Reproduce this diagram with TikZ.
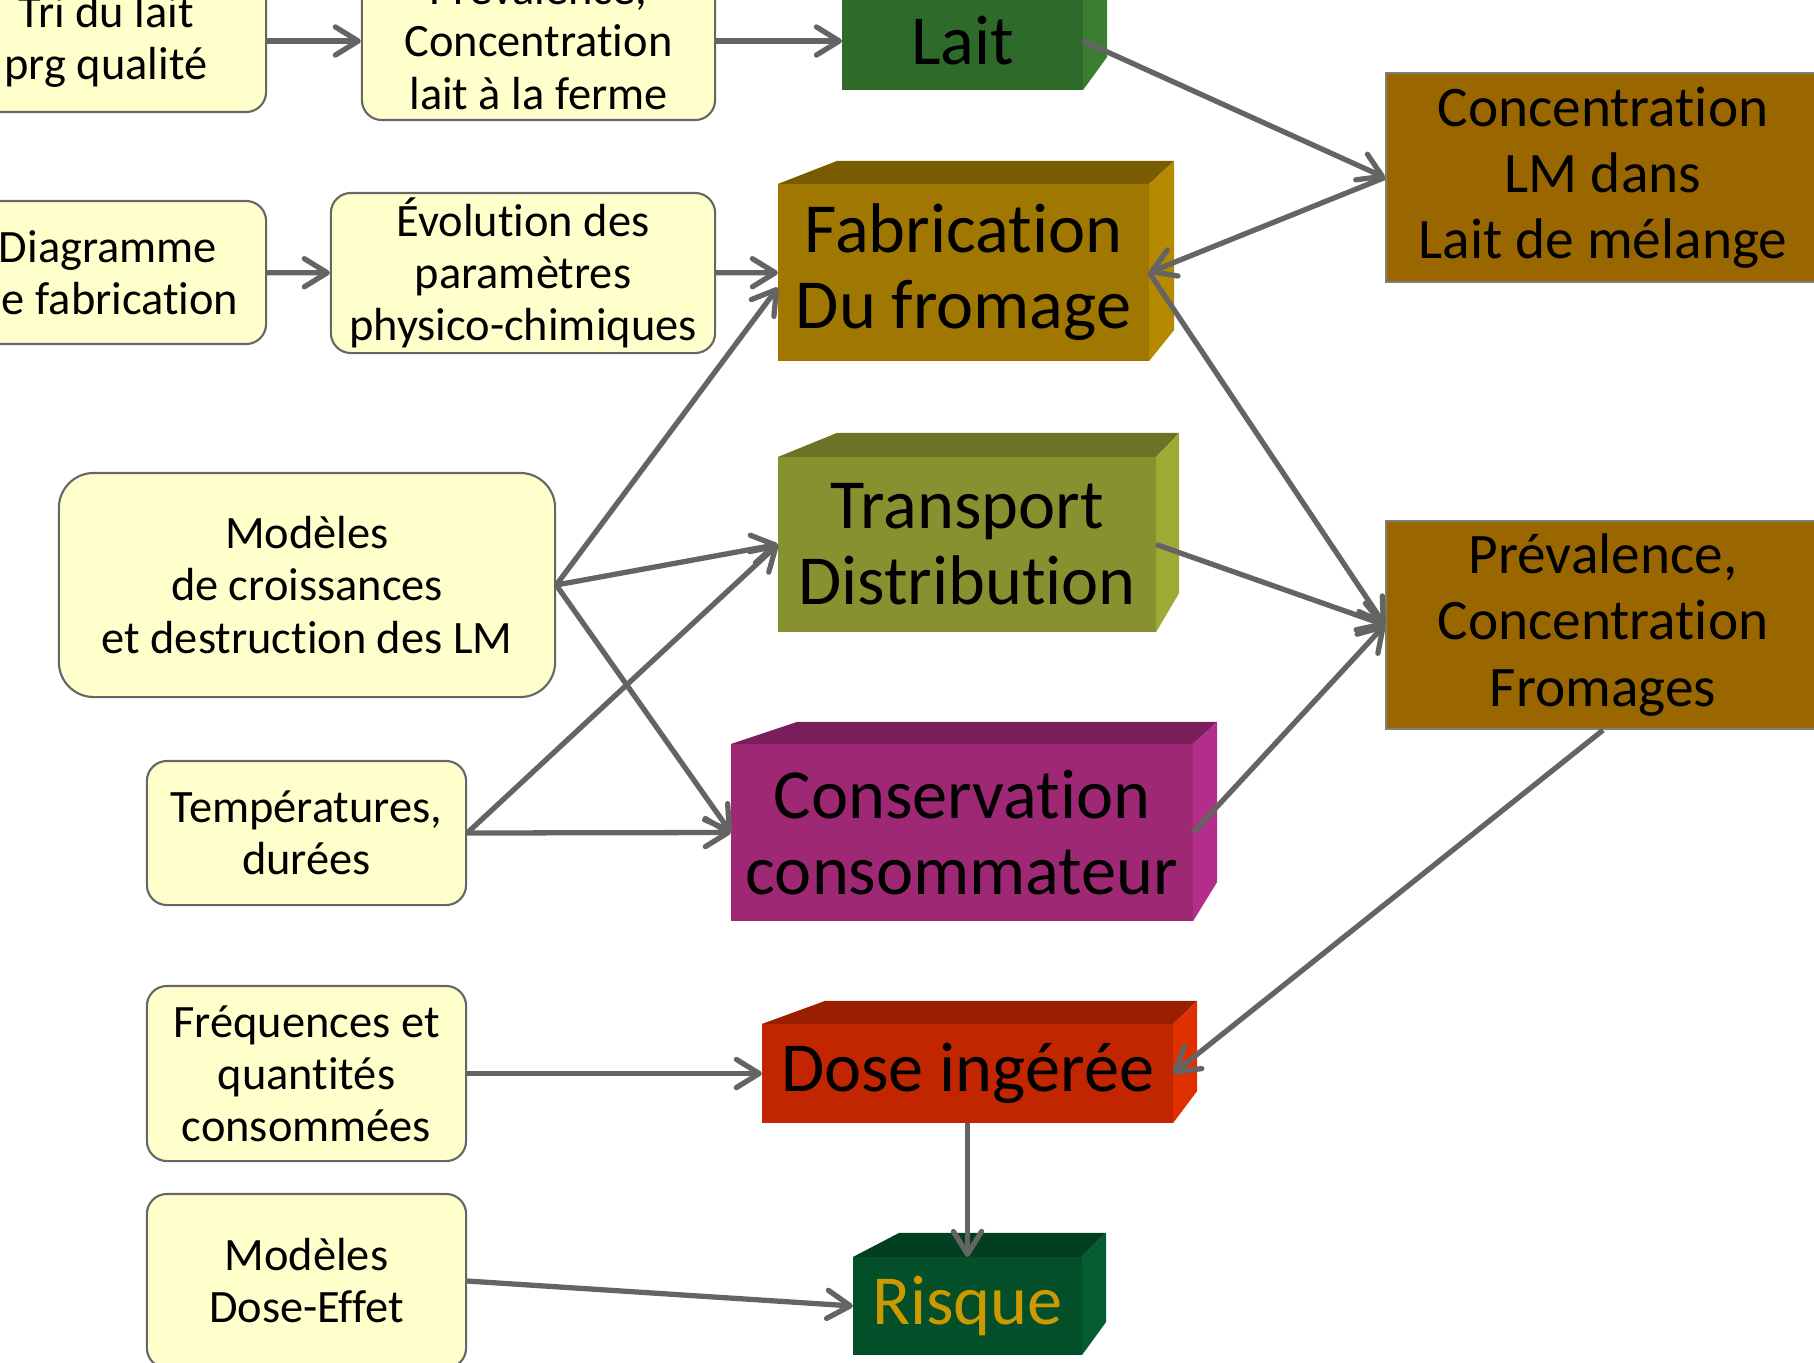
\documentclass[tikz,border=0pt]{standalone}
\usepackage{fontspec}
\setmainfont{Carlito}[RawFeature={-liga;-clig;-calt;-dlig}]
\usepackage{xcolor}
\usepackage{tikz}
\usetikzlibrary{arrows.meta,positioning,calc}

\definecolor{infofill}{HTML}{FFFFCC}
\definecolor{infoborder}{HTML}{666666}
\definecolor{linkgray}{HTML}{646464}
\definecolor{resfill}{HTML}{996600}
\definecolor{resborder}{HTML}{7F7F7F}
\definecolor{laitfront}{HTML}{2E6B2B}
\definecolor{laittop}{HTML}{25591F}
\definecolor{laitside}{HTML}{3B7D31}
\definecolor{fabfront}{HTML}{A07700}
\definecolor{fabtop}{HTML}{7A5C00}
\definecolor{fabside}{HTML}{B58A00}
\definecolor{transfront}{HTML}{879130}
\definecolor{transtop}{HTML}{6B7326}
\definecolor{transside}{HTML}{9DAA35}
\definecolor{consfront}{HTML}{9E2874}
\definecolor{constop}{HTML}{7A1F5B}
\definecolor{consside}{HTML}{B32E8A}
\definecolor{dosefront}{HTML}{C22600}
\definecolor{dosetop}{HTML}{9A1F00}
\definecolor{doseside}{HTML}{E03000}
\definecolor{risqfront}{HTML}{034F29}
\definecolor{risqtop}{HTML}{023F20}
\definecolor{risqside}{HTML}{055C31}
\definecolor{risqtext}{HTML}{CC9900}

% top and side faces of a block: node, shift top left, shift right, rise top, rise bottom right, colours
\newcommand{\boxfaces}[7]{%
  \fill[#6] (#1.north west) -- ++(#2,#4) -- ($(#1.north east)+(#3,#4)$) -- (#1.north east) -- cycle;
  \fill[#7] (#1.north east) -- ($(#1.north east)+(#3,#4)$) -- ($(#1.south east)+(#3,#5)$) -- (#1.south east) -- cycle;
}

\begin{document}
\begin{tikzpicture}[x=0.01cm,y=-0.01cm,
    info/.style={draw=infoborder,fill=infofill,line width=0.6pt,rounded corners=0.2cm,
      align=center,inner sep=0pt,font=\fontsize{13.2}{14.8}\selectfont},
    stage/.style={inner sep=0pt,outer sep=0pt,align=center,font=\fontsize{20}{21.6}\selectfont},
    result/.style={draw=resborder,fill=resfill,line width=0.6pt,inner sep=0pt,align=center,
      minimum width=4.34cm,font=\fontsize{16.3}{18.8}\selectfont},
    link/.style={draw=linkgray,line width=1.5pt,-{Straight Barb[length=6.5pt,width=8pt,round]}}]
    \useasboundingbox (0,0) rectangle (1814,1363);
    \clip (0,0) rectangle (1814,1363);

    % data on the left
    \node[info,minimum width=3.20cm,minimum height=1.42cm] (tri) at (106,41) {Tri du lait\\prg qualité};
    \node[info,minimum width=3.53cm,minimum height=1.58cm] (prevferme) at (538.5,41) {Prévalence,\\Concentration\\lait à la ferme};
    \node[info,minimum width=3.16cm,minimum height=1.43cm] (diag) at (108,272.5) {Diagramme\\de fabrication};
    \node[info,minimum width=3.84cm,minimum height=1.60cm] (evol) at (523,273) {Évolution des\\paramètres\\physico-chimiques};
    \node[info,rounded corners=0.35cm,minimum width=4.96cm,minimum height=2.24cm] (modeles) at (307,585) {Modèles\\de croissances\\et destruction des LM};
    \node[info,minimum width=3.19cm,minimum height=1.44cm] (temp) at (306.5,833) {Températures,\\durées};
    \node[info,minimum width=3.19cm,minimum height=1.75cm] (freq) at (306.5,1073.5) {Fréquences et\\quantités\\consommées};
    \node[info,minimum width=3.19cm,minimum height=1.74cm] (doseeff) at (306.5,1281) {Modèles\\Dose-Effet};

    % blocks of the chain
    \node[stage,fill=laitfront,minimum width=2.41cm,minimum height=0.98cm] (lait) at (962.5,41) {Lait};
    \node[stage,fill=fabfront,minimum width=3.71cm,minimum height=1.77cm] (fab) at (963.5,272.5) {Fabrication\\Du fromage};
    \node[stage,fill=transfront,minimum width=3.78cm,minimum height=1.75cm] (trans) at (967,544.5) {Transport\\Distribution};
    \node[stage,fill=consfront,minimum width=4.62cm,minimum height=1.77cm] (cons) at (962,832.5) {Conservation\\consommateur};
    \node[stage,fill=dosefront,minimum width=4.11cm,minimum height=0.99cm] (dose) at (967.5,1073.5) {Dose ingérée};
    \node[stage,fill=risqfront,text=risqtext,minimum width=2.29cm,minimum height=0.98cm] (risque) at (967.5,1306) {Risque};
    \boxfaces{lait}{55}{24}{-23}{-33}{laittop}{laitside}
    \boxfaces{fab}{59}{25}{-23}{-31}{fabtop}{fabside}
    \boxfaces{trans}{59}{23}{-24}{-39}{transtop}{transside}
    \boxfaces{cons}{66}{24}{-22}{-39}{constop}{consside}
    \boxfaces{dose}{63}{24}{-23}{-32}{dosetop}{doseside}
    \boxfaces{risque}{46}{24}{-24}{-33}{risqtop}{risqside}

    % results on the right
    \node[result,minimum height=2.09cm] (conclm) at (1603,177.5) {Concentration\\LM dans\\Lait de mélange};
    \node[result,minimum height=2.08cm] (prevfrom) at (1603,625) {Prévalence,\\Concentration\\Fromages};

    % connectors
    \draw[link] (tri) -- (prevferme);
    \draw[link] (prevferme) -- (lait);
    \draw[link] (lait.east) -- (conclm.west);
    \draw[link] (conclm.west) -- (fab.east);
    \draw[link] (diag) -- (evol);
    \draw[link] (evol) -- (fab);
    \draw[link] (modeles.east) -- ([yshift=-0.15cm]fab.west);
    \draw[link] (modeles.east) -- (trans.west);
    \draw[link] (modeles.east) -- (cons.west);
    \draw[link] (temp.east) -- (trans.west);
    \draw[link] (temp.east) -- (cons.west);
    \draw[link] (fab.east) -- (prevfrom.west);
    \draw[link] (trans.east) -- (prevfrom.west);
    \draw[link] (cons.east) -- (prevfrom.west);
    \draw[link] (prevfrom.south) -- (dose.east);
    \draw[link] (freq.east) -- (dose.west);
    \draw[link] (dose.south) -- (risque.north);
    \draw[link] (doseeff.east) -- (risque.west);
\end{tikzpicture}
\end{document}
